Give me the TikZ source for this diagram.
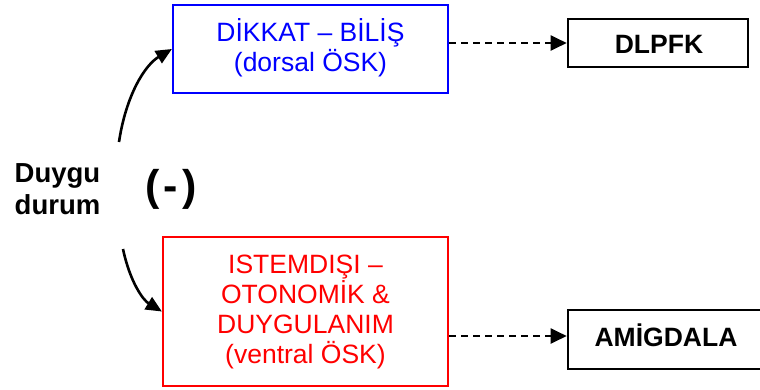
\documentclass[tikz,border=0pt]{standalone}
\usepackage{fontspec}
\setmainfont{Liberation Sans}
\usetikzlibrary{arrows.meta}
\definecolor{pblue}{RGB}{0,0,255}
\definecolor{pred}{RGB}{255,0,0}
\tikzset{
  boxshape/.style={draw, rectangle, inner sep=0pt, line width=2.2pt},
  bigtext/.style={font=\fontsize{26.5}{30}\selectfont, align=center, inner sep=0pt},
  boldtext/.style={font=\fontsize{26.5}{32}\selectfont\bfseries, align=center, inner sep=0pt},
  curvearrow/.style={line width=2.6pt, -{Triangle[length=16pt,width=14pt]}},
  dasharrow/.style={line width=2pt, dash pattern=on 7pt off 5pt, -{Triangle[length=16pt,width=15pt]}}
}
\begin{document}
\begin{tikzpicture}[x=1pt,y=-1pt]
\useasboundingbox (0,0) rectangle (760,389);
% boxes
\node[boxshape, draw=pblue, minimum width=275pt, minimum height=88pt] (dik) at (310.5,49) {};
\node[boxshape, draw=pred, minimum width=285pt, minimum height=149pt] (ist) at (305.5,311.5) {};
\node[boxshape, line width=2.6pt, minimum width=180pt, minimum height=48pt] (dlp) at (658,43) {};
\node[boxshape, line width=2.6pt, minimum width=196pt, minimum height=59pt] (amg) at (666,339.5) {};
% texts
\node[bigtext, text=pblue] (dikt) at (310.5,48) {DİKKAT – BİLİŞ\\(dorsal ÖSK)};
\node[bigtext, text=pred] (istt) at (305.5,311.5) {ISTEMDIŞI –\\OTONOMİK \&\\DUYGULANIM\\(ventral ÖSK)};
\node[boldtext, anchor=base] (dlpt) at (659,53.3) {DLPFK};
\node[boldtext, anchor=base] (amgt) at (666,346.6) {AMİGDALA};
\node[boldtext, font=\fontsize{27.5}{32}\selectfont\bfseries] (duy) at (57.5,189.5) {Duygu\\durum};
\node[font=\fontsize{43}{46}\selectfont\bfseries, inner sep=0pt] (neg) at (171,189) {(\hspace{4pt}-\hspace{4pt})};
% connectors
\coordinate (s1) at (119,142);
\coordinate (s2) at (123,249);
\draw[curvearrow] (s1) .. controls (126,95) and (145,65) .. (dik.west);
\draw[curvearrow] (s2) .. controls (130,282) and (143,300) .. (ist.west);
\draw[dasharrow] (dik.east |- dlp.west) -- (dlp.west);
\draw[dasharrow] (ist.east |- amg.west) ++(0,-3.5) -- ([yshift=3.5pt]amg.west);
\end{tikzpicture}
\end{document}
